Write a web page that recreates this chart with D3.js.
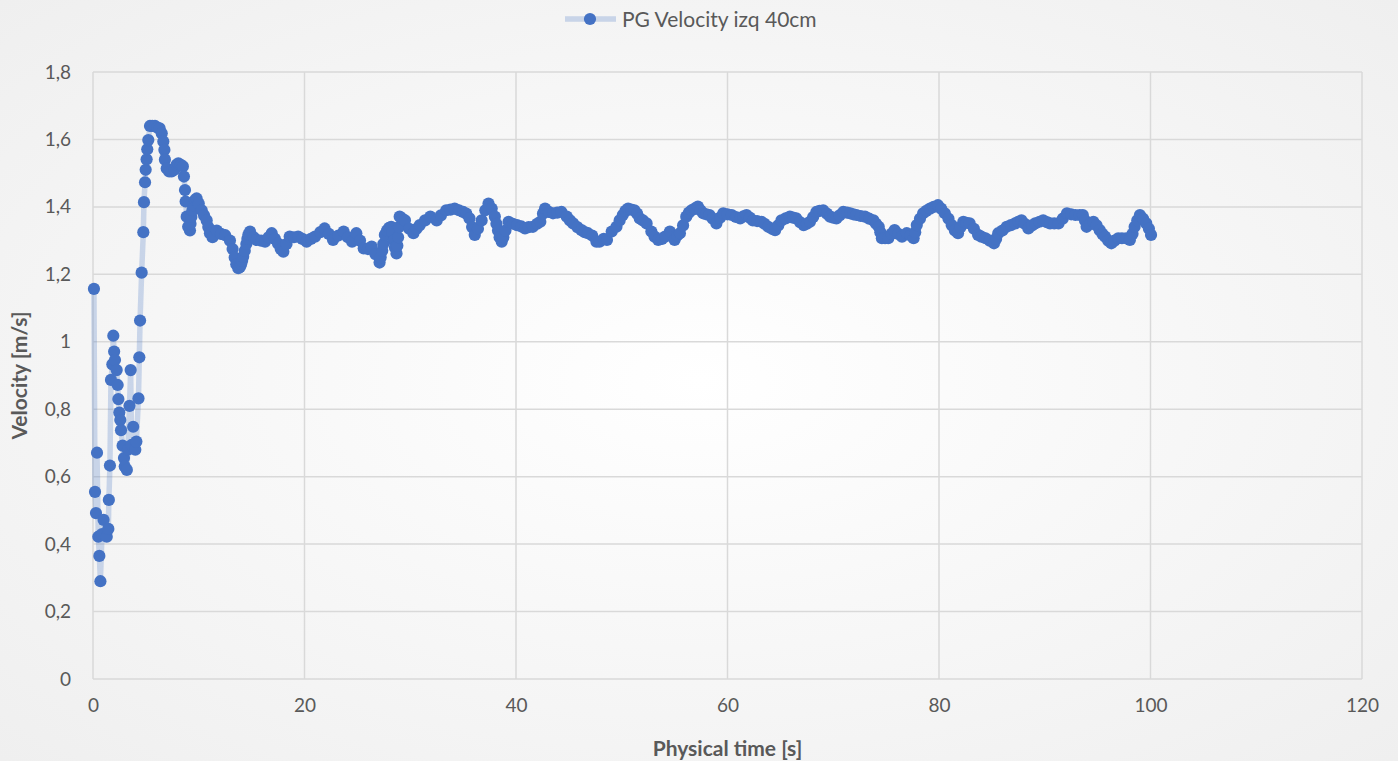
<!DOCTYPE html>
<html><head><meta charset="utf-8">
<script src="https://cdn.jsdelivr.net/npm/d3@7"></script>
<style>html,body{margin:0;padding:0;overflow:hidden;background:#fff}</style>
</head><body>
<svg id="chart" width="1398" height="761"></svg>
<script>
const seriesName = "PG Velocity izq 40cm";
const xTicks = [0, 20, 40, 60, 80, 100, 120];
const yTicks = [0, 0.2, 0.4, 0.6, 0.8, 1, 1.2, 1.4, 1.6, 1.8];
// [physical time (s), velocity (m/s)]
const startupPhase = [
[0.09,1.157],[0.19,0.555],[0.28,0.492],[0.38,0.671],[0.5,0.422],[0.6,0.365],[0.7,0.29],[0.85,0.43],
[1.0,0.472],[1.3,0.422],[1.45,0.445],[1.5,0.531],[1.6,0.633],[1.7,0.887],[1.83,0.933],[1.92,1.018],
[2.0,0.971],[2.08,0.946],[2.24,0.916],[2.33,0.872],[2.4,0.83],[2.49,0.79],[2.58,0.768],[2.65,0.738],
[2.8,0.692],[2.93,0.655],[3.0,0.63],[3.2,0.62],[3.3,0.68],[3.45,0.81],[3.56,0.916],[3.65,0.694],
[3.8,0.748],[4.0,0.68],[4.1,0.704],[4.3,0.832],[4.38,0.954],[4.45,1.063],[4.6,1.205],[4.76,1.325],
[4.82,1.414],[4.92,1.473],[4.98,1.51]
];
const peakPhase = [
[5.07,1.541],[5.13,1.571],[5.23,1.598],[5.39,1.64],[5.6,1.64],[5.86,1.64],[6.1,1.635],[6.3,1.633],
[6.5,1.618],[6.65,1.594],[6.75,1.569],[6.8,1.54],[6.97,1.514],[7.2,1.505],[7.44,1.505],[7.7,1.51],
[7.9,1.525],[8.07,1.529],[8.3,1.525],[8.5,1.52],[8.6,1.49],[8.7,1.45],[8.76,1.416],[8.86,1.371],
[9.0,1.341],[9.17,1.33],[9.22,1.35],[9.3,1.37],[9.4,1.39],[9.48,1.405],[9.65,1.42],[9.8,1.425],
[10.0,1.41],[10.28,1.39],[10.5,1.375],[10.75,1.36],[10.9,1.34],[11.06,1.322],[11.3,1.31],[11.7,1.33],
[12.1,1.32],[12.5,1.316],[12.95,1.30],[13.2,1.275],[13.4,1.25],[13.55,1.23],[13.74,1.218],[13.9,1.222],
[14.0,1.23],[14.1,1.24],[14.2,1.252],[14.35,1.27],[14.5,1.29],[14.6,1.305],[14.7,1.318],[14.85,1.327]
];
const steadyPhase = [
[15.2,1.31],[15.48,1.302],[15.9,1.30],[16.27,1.297],[16.6,1.31],[16.9,1.322],[17.2,1.305],[17.5,1.291],
[17.75,1.275],[18.0,1.267],[18.3,1.29],[18.6,1.312],[19.0,1.31],[19.4,1.312],[19.8,1.305],[20.2,1.297],
[20.6,1.305],[21.0,1.312],[21.5,1.325],[21.9,1.336],[22.3,1.32],[22.7,1.302],[23.2,1.315],[23.7,1.327],
[24.1,1.31],[24.5,1.297],[24.9,1.322],[25.25,1.30],[25.6,1.277],[26.0,1.275],[26.35,1.282],[26.7,1.26],
[27.1,1.235],[27.2,1.25],[27.35,1.27],[27.45,1.29],[27.6,1.317],[27.8,1.33],[28.0,1.338],[28.2,1.341],
[28.3,1.325],[28.45,1.30],[28.55,1.28],[28.7,1.262],[28.78,1.285],[28.85,1.31],[28.92,1.34],[29.0,1.371],
[29.25,1.365],[29.5,1.36],[29.9,1.335],[30.3,1.322],[30.6,1.335],[30.9,1.346],[31.4,1.36],[31.9,1.371],
[32.5,1.36],[32.9,1.375],[33.4,1.39],[33.8,1.392],[34.2,1.395],[34.6,1.39],[35.0,1.385],[35.3,1.38],
[35.6,1.366],[35.85,1.34],[36.1,1.317],[36.4,1.335],[36.75,1.36],[37.1,1.39],[37.4,1.41],[37.7,1.395],
[38.0,1.371],[38.15,1.35],[38.3,1.33],[38.45,1.31],[38.65,1.297],[38.8,1.31],[39.0,1.33],[39.3,1.356],
[39.7,1.35],[40.1,1.346],[40.5,1.342],[40.85,1.336],[41.2,1.34],[41.6,1.341],[42.0,1.35],[42.3,1.356],
[42.55,1.38],[42.75,1.395],[43.1,1.385],[43.5,1.381],[43.9,1.383],[44.3,1.385],[44.8,1.371],[45.1,1.36],
[45.4,1.351],[45.8,1.34],[46.2,1.331],[46.5,1.325],[46.8,1.322],[47.2,1.315],[47.6,1.297],[47.9,1.297],
[48.3,1.305],[48.6,1.302],[49.05,1.327],[49.5,1.341],[49.8,1.36],[50.1,1.376],[50.35,1.388],[50.6,1.395],
[50.9,1.392],[51.2,1.39],[51.45,1.38],[51.7,1.366],[52.0,1.36],[52.35,1.351],[52.8,1.327],[53.1,1.312],
[53.45,1.302],[53.8,1.305],[54.1,1.312],[54.55,1.327],[55.0,1.302],[55.25,1.315],[55.5,1.322],[55.8,1.345],
[56.1,1.371],[56.35,1.383],[56.6,1.39],[56.9,1.395],[57.2,1.401],[57.45,1.39],[57.7,1.381],[58.0,1.378],
[58.3,1.376],[58.6,1.365],[58.95,1.351],[59.3,1.368],[59.6,1.381],[60.0,1.378],[60.4,1.376],[60.8,1.37],
[61.2,1.366],[61.5,1.372],[61.8,1.376],[62.1,1.368],[62.4,1.36],[62.8,1.358],[63.2,1.356],[63.5,1.35],
[63.85,1.341],[64.2,1.335],[64.5,1.331],[64.8,1.345],[65.1,1.36],[65.5,1.366],[65.9,1.371],[66.2,1.368],
[66.5,1.366],[66.85,1.355],[67.2,1.346],[67.5,1.35],[67.8,1.356],[68.1,1.37],[68.4,1.385],[68.7,1.388],
[69.05,1.39],[69.4,1.38],[69.7,1.371],[70.0,1.368],[70.3,1.366],[70.6,1.375],[70.95,1.385],[71.3,1.383],
[71.6,1.381],[71.9,1.378],[72.2,1.376],[72.6,1.373],[73.0,1.371],[73.4,1.365],[73.8,1.36],[74.05,1.35],
[74.3,1.341],[74.45,1.325],[74.6,1.307],[74.9,1.307],[75.2,1.307],[75.5,1.32],[75.8,1.331],[76.15,1.32],
[76.5,1.312],[76.95,1.322],[77.3,1.315],[77.6,1.307],[77.75,1.325],[77.9,1.346],[78.2,1.365],[78.5,1.381],
[78.8,1.388],[79.15,1.395],[79.5,1.40],[79.9,1.405],[80.2,1.395],[80.55,1.381],[80.9,1.365],[81.2,1.346],
[81.5,1.33],[81.8,1.322],[82.05,1.34],[82.3,1.356],[82.6,1.353],[82.9,1.351],[83.3,1.335],[83.7,1.317],
[84.0,1.312],[84.4,1.307],[84.8,1.30],[85.2,1.292],[85.4,1.305],[85.6,1.322],[86.0,1.33],[86.4,1.341],
[86.8,1.346],[87.2,1.351],[87.5,1.356],[87.8,1.36],[88.1,1.35],[88.45,1.336],[88.8,1.345],[89.1,1.351],
[89.5,1.356],[89.85,1.36],[90.2,1.355],[90.5,1.351],[90.9,1.351],[91.3,1.351],[91.7,1.365],[92.1,1.381],
[92.5,1.378],[92.9,1.376],[93.3,1.376],[93.6,1.376],[93.8,1.36],[93.96,1.341],[94.3,1.35],[94.6,1.356],
[94.9,1.345],[95.2,1.331],[95.45,1.32],[95.7,1.312],[96.0,1.30],[96.3,1.292],[96.6,1.30],[96.95,1.307],
[97.3,1.307],[97.7,1.307],[98.05,1.302],[98.3,1.32],[98.5,1.341],[98.75,1.36],[99.0,1.376],[99.3,1.365],
[99.6,1.351],[99.85,1.335],[100.05,1.317]
];

const W = 1398, H = 761;
const svg = d3.select("#chart");
const defs = svg.append("defs");
const grad = defs.append("radialGradient").attr("id","bg").attr("cx","50%").attr("cy","50%").attr("r","75%");
grad.append("stop").attr("offset","0%").attr("stop-color","#ffffff");
grad.append("stop").attr("offset","100%").attr("stop-color","#eeeeee");
svg.append("rect").attr("width",W).attr("height",H).attr("fill","url(#bg)");

const x = d3.scaleLinear().domain([0,120]).range([93,1362]);
const y = d3.scaleLinear().domain([0,1.8]).range([679,72]);
const grey = "#595959", gridC = "#d9d9d9";
const font = "Lato, 'Open Sans', sans-serif";

const g = svg.append("g");
g.selectAll(".hg").data(yTicks).join("line")
  .attr("x1",x(0)).attr("x2",x(120)).attr("y1",d=>y(d)).attr("y2",d=>y(d))
  .attr("stroke",gridC).attr("stroke-width",1.5);
g.selectAll(".vg").data(xTicks).join("line")
  .attr("y1",y(0)).attr("y2",y(1.8)).attr("x1",d=>x(d)).attr("x2",d=>x(d))
  .attr("stroke",gridC).attr("stroke-width",1.5);

const fmt = d => String(d).replace(".", ",");
const ya = svg.append("g").attr("transform",`translate(${x(0)},0)`)
  .call(d3.axisLeft(y).tickValues(yTicks).tickFormat(fmt).tickSize(0).tickPadding(22));
const xa = svg.append("g").attr("transform",`translate(0,${y(0)})`)
  .call(d3.axisBottom(x).tickValues(xTicks).tickFormat(d3.format("d")).tickSize(0).tickPadding(20));
[ya, xa].forEach(a => {
  a.select(".domain").remove();
  a.selectAll("text").attr("fill",grey).style("font-family",font).style("font-size","19px");
});

const pts = startupPhase.concat(peakPhase, steadyPhase).map(([t,v]) => ({t, v}));
svg.append("path").datum(pts)
  .attr("d", d3.line().x(d=>x(d.t)).y(d=>y(d.v)))
  .attr("fill","none").attr("stroke","#4472C4").attr("stroke-opacity",0.25)
  .attr("stroke-width",5.5).attr("stroke-linejoin","round");
svg.append("g").selectAll("circle").data(pts).join("circle")
  .attr("cx",d=>x(d.t)).attr("cy",d=>y(d.v)).attr("r",6.1).attr("fill","#4472C4");

svg.append("text").attr("x",(x(0)+x(120))/2).attr("y",756).attr("text-anchor","middle")
  .attr("fill",grey).style("font-family",font).style("font-size","21px").style("font-weight","bold")
  .text("Physical time [s]");
svg.append("text").attr("transform",`translate(27,${(y(0)+y(1.8))/2}) rotate(-90)`).attr("text-anchor","middle")
  .attr("fill",grey).style("font-family",font).style("font-size","21px").style("font-weight","bold")
  .text("Velocity [m/s]");

const lg = svg.append("g");
lg.append("line").attr("x1",565).attr("x2",616).attr("y1",19).attr("y2",19)
  .attr("stroke","#4472C4").attr("stroke-opacity",0.25).attr("stroke-width",5.5);
lg.append("circle").attr("cx",590).attr("cy",19).attr("r",6.1).attr("fill","#4472C4");
lg.append("text").attr("x",622).attr("y",26.5).attr("fill",grey)
  .style("font-family",font).style("font-size","21px").text(seriesName);
</script>
</body></html>
